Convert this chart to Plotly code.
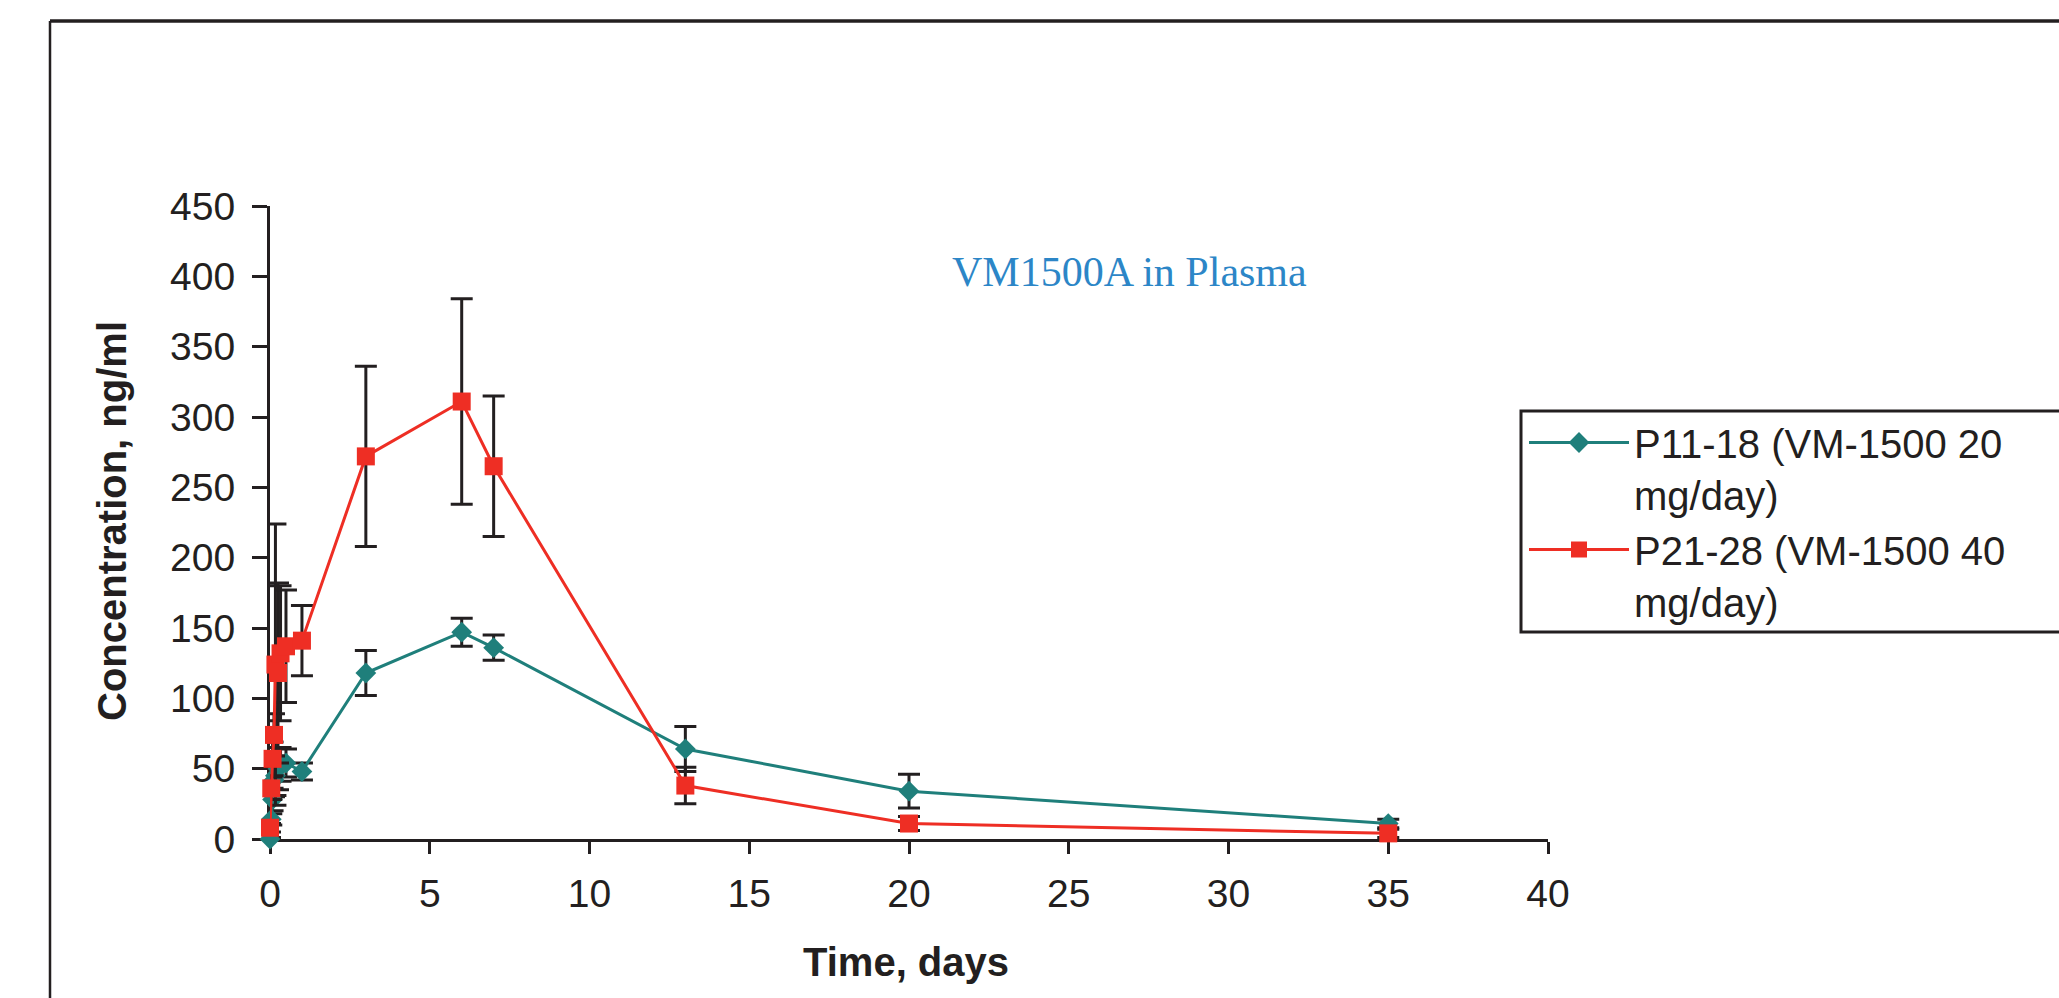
import plotly.graph_objects as go

W, H = 2059, 998

# Sampling times (days) and plasma concentrations (ng/ml, mean and SD)
time_days = [0, 0.04, 0.08, 0.125, 0.17, 0.25, 0.33, 0.5, 1, 3, 6, 7, 13, 20, 35]
p11_18_mean = [0, 14, 28, 42, 45, 50, 53, 54, 48, 118, 147, 136, 64, 34, 11]
p11_18_sd = [1, 4, 8, 12, 14, 15, 12, 10, 6, 16, 10, 9, 16, 12, 3]
p21_28_mean = [8, 36, 57, 74, 124, 118, 132, 137, 141, 272, 311, 265, 38, 11, 4]
p21_28_sd = [3, 8, 12, 15, 100, 64, 48, 40, 25, 64, 73, 50, 13, 5, 3]

series_names = ["P11-18 (VM-1500 20<br>mg/day)", "P21-28 (VM-1500 40<br>mg/day)"]
x_ticks = [0, 5, 10, 15, 20, 25, 30, 35, 40]
y_ticks = [0, 50, 100, 150, 200, 250, 300, 350, 400, 450]

TEAL = "#1f7f7b"
RED = "#ee2e24"
INK = "#231f20"
SANS = "Liberation Sans, Arial, sans-serif"
SERIF = "Liberation Serif, Times New Roman, serif"


def fx(px):
    return px / W


def fy(py):
    return 1 - py / H


err_style = dict(type="data", visible=True, color=INK, thickness=3, width=11)

fig = go.Figure()
fig.add_trace(go.Scatter(
    x=time_days, y=p11_18_mean, name=series_names[0], mode="lines+markers",
    line=dict(color=TEAL, width=3),
    marker=dict(symbol="diamond", size=16, color=TEAL),
    error_y=dict(array=p11_18_sd, **err_style),
    cliponaxis=False,
))
fig.add_trace(go.Scatter(
    x=time_days, y=p21_28_mean, name=series_names[1], mode="lines+markers",
    line=dict(color=RED, width=3),
    marker=dict(symbol="square", size=18, color=RED),
    error_y=dict(array=p21_28_sd, **err_style),
    cliponaxis=False,
))

axis_common = dict(
    showgrid=False, zeroline=False, showline=True, linecolor=INK, linewidth=3,
    ticks="outside", tickcolor=INK, tickwidth=2.5,
    tickfont=dict(family=SANS, size=39, color=INK),
    layer="below traces",
)

fig.update_layout(
    width=W, height=H,
    margin=dict(l=0, r=0, t=0, b=0, autoexpand=False),
    paper_bgcolor="white", plot_bgcolor="white",
    xaxis=dict(domain=[fx(270), fx(1548)], range=[0, 40], tickvals=x_ticks,
               ticklen=12, ticklabelstandoff=6, **axis_common),
    yaxis=dict(domain=[fy(839), fy(206)], range=[0, 450], tickvals=y_ticks,
               ticklen=15, ticklabelstandoff=9, **axis_common),
    showlegend=True,
    legend=dict(
        x=fx(1524), y=fy(410), xanchor="left", yanchor="top",
        bgcolor="rgba(0,0,0,0)", borderwidth=0,
        font=dict(family=SANS, size=40, color=INK),
        itemwidth=100, valign="top", tracegroupgap=4,
    ),
    annotations=[
        dict(text="VM1500A in Plasma", xref="paper", yref="paper",
             x=fx(1129), y=fy(272), xanchor="center", yanchor="middle",
             showarrow=False,
             font=dict(family=SERIF, size=42, color="#2c86c7")),
        dict(text="<b>Concentration, ng/ml</b>", xref="paper", yref="paper",
             x=fx(112), y=fy(521), xanchor="center", yanchor="middle",
             showarrow=False, textangle=-90,
             font=dict(family=SANS, size=40, color=INK)),
        dict(text="<b>Time, days</b>", xref="paper", yref="paper",
             x=fx(906), y=fy(962), xanchor="center", yanchor="middle",
             showarrow=False,
             font=dict(family=SANS, size=40, color=INK)),
    ],
    shapes=[
        # outer chart-area frame (continues past the right and bottom edges)
        dict(type="line", xref="paper", yref="paper", x0=fx(50), x1=1.01,
             y0=fy(21), y1=fy(21), line=dict(color=INK, width=3.5)),
        dict(type="line", xref="paper", yref="paper", x0=fx(50), x1=fx(50),
             y0=fy(21), y1=-0.01, line=dict(color=INK, width=2.5)),
        # legend frame, wider than the page
        dict(type="rect", xref="paper", yref="paper", layer="below",
             x0=fx(1521), x1=1.02, y0=fy(632), y1=fy(411),
             fillcolor="white", line=dict(color=INK, width=3)),
    ],
)

fig.write_html("out.html")
